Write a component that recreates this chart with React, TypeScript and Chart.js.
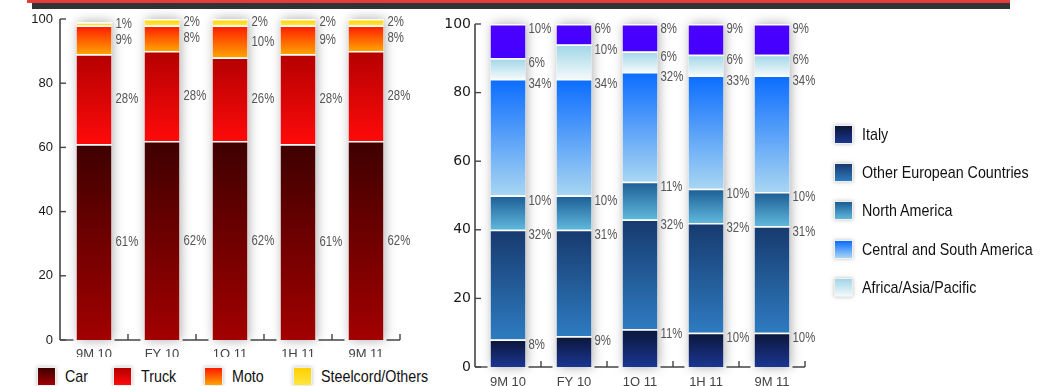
import React, { useEffect, useRef } from 'react';
import { Chart, registerables } from 'chart.js';
Chart.register(...registerables);

// ---------- data ----------
const periods = ['9M 10', 'FY 10', '1Q 11', '1H 11', '9M 11'];

const car = [61, 62, 62, 61, 62];
const truck = [28, 28, 26, 28, 28];
const moto = [9, 8, 10, 9, 8];
const steelcord = [1, 2, 2, 2, 2];

const italy = [8, 9, 11, 10, 10];
const otherEurope = [32, 31, 32, 32, 31];
const northAmerica = [10, 10, 11, 10, 10];
const centralSouthAmerica = [34, 34, 32, 33, 34];
const africaAsiaPacific = [6, 10, 6, 6, 6];
const otherRegions = [10, 6, 8, 9, 9];

const yTicks = [0, 20, 40, 60, 80, 100];

const leftLegend = ['Car', 'Truck', 'Moto', 'Steelcord/Others'];
const rightLegend = ['Italy', 'Other European Countries', 'North America', 'Central and South America', 'Africa/Asia/Pacific'];

// ---------- colours ----------
const leftColors: [string, string][] = [
  ['#3e0000', '#a20000'],
  ['#b40000', '#ff0a0a'],
  ['#ff1800', '#ffa400'],
  ['#ffd000', '#ffe640'],
];
const rightColors: [string, string][] = [
  ['#0b1638', '#1b3692'],
  ['#173a6e', '#2e7bc0'],
  ['#1b5c94', '#60b8dc'],
  ['#0a6cff', '#a8d6f2'],
  ['#9fd6e6', '#f2f9fc'],
  ['#4a00ff', '#4400ff'],
];

const SANS = '"Liberation Sans", Arial, sans-serif';

function segGradient(top: string, bottom: string) {
  return (c: any) => {
    const chart = c.chart;
    const ys = chart.scales && chart.scales.y;
    if (!chart.chartArea || !ys || c.type !== 'data') return top;
    const di = c.datasetIndex;
    const i = c.dataIndex;
    let base = 0;
    for (let d = 0; d < di; d++) base += chart.data.datasets[d].data[i];
    const val = chart.data.datasets[di].data[i];
    const y0 = ys.getPixelForValue(base + val);
    const y1 = ys.getPixelForValue(base);
    if (!isFinite(y0) || !isFinite(y1) || Math.abs(y1 - y0) < 0.5) return top;
    const g = chart.ctx.createLinearGradient(0, y0, 0, y1);
    g.addColorStop(0, top);
    g.addColorStop(1, bottom);
    return g;
  };
}

const barShadow = {
  id: 'barShadow',
  beforeDatasetsDraw(chart: any) {
    const { ctx } = chart;
    const nds = chart.data.datasets.length;
    const first = chart.getDatasetMeta(0);
    const last = chart.getDatasetMeta(nds - 1);
    ctx.save();
    first.data.forEach((bot: any, i: number) => {
      const top = last.data[i];
      const w = bot.width;
      ctx.shadowColor = 'rgba(0,0,0,0.34)';
      ctx.shadowBlur = 11;
      ctx.shadowOffsetX = 1;
      ctx.fillStyle = '#ffffff';
      ctx.fillRect(bot.x - w / 2, top.y, w, bot.base - top.y);
    });
    ctx.restore();
  },
};

const axisDecor = {
  id: 'axisDecor',
  afterDatasetsDraw(chart: any, _a: any, opts: any) {
    const { ctx, chartArea, scales } = chart;
    const ys = scales.y;
    const els = chart.getDatasetMeta(0).data;
    const yb = chartArea.bottom;
    const left = chartArea.left;
    ctx.save();
    ctx.strokeStyle = opts.color || '#444';
    ctx.lineWidth = 1.6;
    ctx.beginPath();
    ctx.moveTo(left, ys.getPixelForValue(100));
    ctx.lineTo(left, yb);
    ctx.stroke();
    ctx.lineWidth = 1.4;
    yTicks.forEach((v) => {
      const y = ys.getPixelForValue(v);
      ctx.beginPath();
      ctx.moveTo(left, y);
      ctx.lineTo(left + 6, y);
      ctx.stroke();
    });
    const half = els[0].width / 2;
    ctx.beginPath();
    ctx.moveTo(left, yb);
    ctx.lineTo(els[0].x - half - 3, yb);
    ctx.stroke();
    els.forEach((el: any, i: number) => {
      const start = el.x + half + 3;
      const isLast = i === els.length - 1;
      const end = isLast ? chartArea.right : els[i + 1].x - half - 4;
      const tx = isLast ? chartArea.right : (el.x + els[i + 1].x) / 2;
      ctx.beginPath();
      ctx.moveTo(start, yb);
      ctx.lineTo(end, yb);
      ctx.moveTo(tx, yb);
      ctx.lineTo(tx, yb - 6);
      ctx.stroke();
    });
    ctx.restore();
  },
};

const valueLabels = {
  id: 'valueLabels',
  afterDatasetsDraw(chart: any, _a: any, opts: any) {
    const { ctx } = chart;
    chart.data.datasets.forEach((ds: any, di: number) => {
      const meta = chart.getDatasetMeta(di);
      meta.data.forEach((el: any, i: number) => {
        const v = ds.data[i];
        const x = el.x + el.width / 2 + opts.dx;
        const y = opts.anchor === 'middle' ? (el.y + el.base) / 2 : el.y + opts.dy;
        ctx.save();
        ctx.font = opts.font;
        ctx.fillStyle = opts.color;
        ctx.textAlign = 'left';
        ctx.textBaseline = 'middle';
        ctx.translate(x, y);
        ctx.scale(opts.squeeze, 1);
        ctx.fillText(v + '%', 0, 0);
        ctx.restore();
      });
    });
  },
};

function makeConfig(
  series: number[][],
  names: string[],
  colors: [string, string][],
  o: { padTop: number; padRight: number; yWidth: number; xHeight: number; catPct: number; yFont: any; yPad: number; xPad: number; labelAnchor: string; dx: number; dy: number }
): any {
  return {
    type: 'bar',
    data: {
      labels: periods,
      datasets: series.map((d, k) => ({
        label: names[k],
        data: d,
        backgroundColor: segGradient(colors[k][0], colors[k][1]),
        borderColor: 'rgba(255,255,255,0.95)',
        borderWidth: { top: 1.5, left: 0, right: 0, bottom: 0 },
        borderSkipped: false,
        barPercentage: 1,
        categoryPercentage: o.catPct,
      })),
    },
    options: {
      responsive: false,
      animation: false,
      devicePixelRatio: 1,
      layout: { padding: { top: o.padTop, right: o.padRight, left: 0, bottom: 0 } },
      plugins: {
        legend: { display: false },
        tooltip: { enabled: false },
        valueLabels: { font: '15px ' + SANS, color: '#555', anchor: o.labelAnchor, dx: o.dx, dy: o.dy, squeeze: 0.76 },
        axisDecor: { color: '#444' },
      },
      scales: {
        x: {
          stacked: true,
          grid: { display: false, drawTicks: false },
          border: { display: false },
          ticks: { color: '#444', font: { family: SANS, size: 13 }, padding: o.xPad, autoSkip: false, maxRotation: 0 },
          afterFit: (s: any) => { s.height = o.xHeight; },
        },
        y: {
          stacked: true,
          min: 0,
          max: 100,
          grid: { display: false, drawTicks: false },
          border: { display: false },
          ticks: { stepSize: 20, color: '#1a1a1a', font: o.yFont, padding: o.yPad },
          afterFit: (s: any) => { s.width = o.yWidth; },
        },
      },
    },
    plugins: [barShadow, axisDecor, valueLabels],
  };
}

function Swatch({ c }: { c: [string, string] }) {
  return (
    <div
      style={{
        width: 19,
        height: 19,
        background: `linear-gradient(to bottom, ${c[0]}, ${c[1]})`,
        border: '1px solid #eee',
        boxShadow: '0 0 4px rgba(0,0,0,0.25)',
        boxSizing: 'border-box',
      }}
    />
  );
}

const leftSwatchX = [37, 113, 204, 293];

export default function App() {
  const leftRef = useRef<HTMLCanvasElement>(null);
  const rightRef = useRef<HTMLCanvasElement>(null);

  useEffect(() => {
    const c1 = new Chart(
      leftRef.current as HTMLCanvasElement,
      makeConfig([car, truck, moto, steelcord], leftLegend, leftColors, {
        padTop: 19, padRight: 40, yWidth: 60, xHeight: 46, catPct: 35 / 68,
        yFont: { family: SANS, size: 13 }, yPad: 7, xPad: 7,
        labelAnchor: 'middle', dx: 4, dy: 0,
      })
    );
    const c2 = new Chart(
      rightRef.current as HTMLCanvasElement,
      makeConfig([italy, otherEurope, northAmerica, centralSouthAmerica, africaAsiaPacific, otherRegions],
        [...rightLegend, 'Other'], rightColors, {
        padTop: 24, padRight: 35, yWidth: 35, xHeight: 19, catPct: 35 / 66,
        yFont: { family: '"DejaVu Sans", sans-serif', size: 14 }, yPad: 4, xPad: 8,
        labelAnchor: 'top', dx: 3, dy: 5,
      })
    );
    return () => { c1.destroy(); c2.destroy(); };
  }, []);

  const textStyle = (size: number, sx: number): React.CSSProperties => ({
    position: 'absolute',
    font: `${size}px ${SANS}`,
    color: '#111',
    lineHeight: '19px',
    whiteSpace: 'nowrap',
    transform: `scaleX(${sx})`,
    transformOrigin: 'left center',
  });

  return (
    <div style={{ position: 'absolute', left: 0, top: 0, width: 1049, height: 386, background: '#fff', overflow: 'hidden' }}>
      <div style={{ position: 'absolute', left: 27, top: 0, width: 983, height: 3, background: '#e23c3c' }} />
      <div style={{ position: 'absolute', left: 32, top: 3, width: 978, height: 6, background: '#333' }} />
      <canvas ref={leftRef} width={440} height={386} style={{ position: 'absolute', left: 0, top: 0 }} />
      <canvas ref={rightRef} width={400} height={386} style={{ position: 'absolute', left: 440, top: 0 }} />
      <div style={{ position: 'absolute', left: 0, top: 357, width: 440, height: 29, background: '#fff' }}>
        {leftLegend.map((n, k) => (
          <React.Fragment key={n}>
            <div style={{ position: 'absolute', left: leftSwatchX[k], top: 10 }}>
              <Swatch c={leftColors[k]} />
            </div>
            <span style={{ ...textStyle(17, 0.84), left: leftSwatchX[k] + 28, top: 10 }}>{n}</span>
          </React.Fragment>
        ))}
      </div>
      {rightLegend.map((n, k) => (
        <React.Fragment key={n}>
          <div style={{ position: 'absolute', left: 834, top: 125 + k * 38.2 }}>
            <Swatch c={rightColors[k]} />
          </div>
          <span style={{ ...textStyle(17, 0.84), left: 862, top: 125 + k * 38.2 }}>{n}</span>
        </React.Fragment>
      ))}
    </div>
  );
}
